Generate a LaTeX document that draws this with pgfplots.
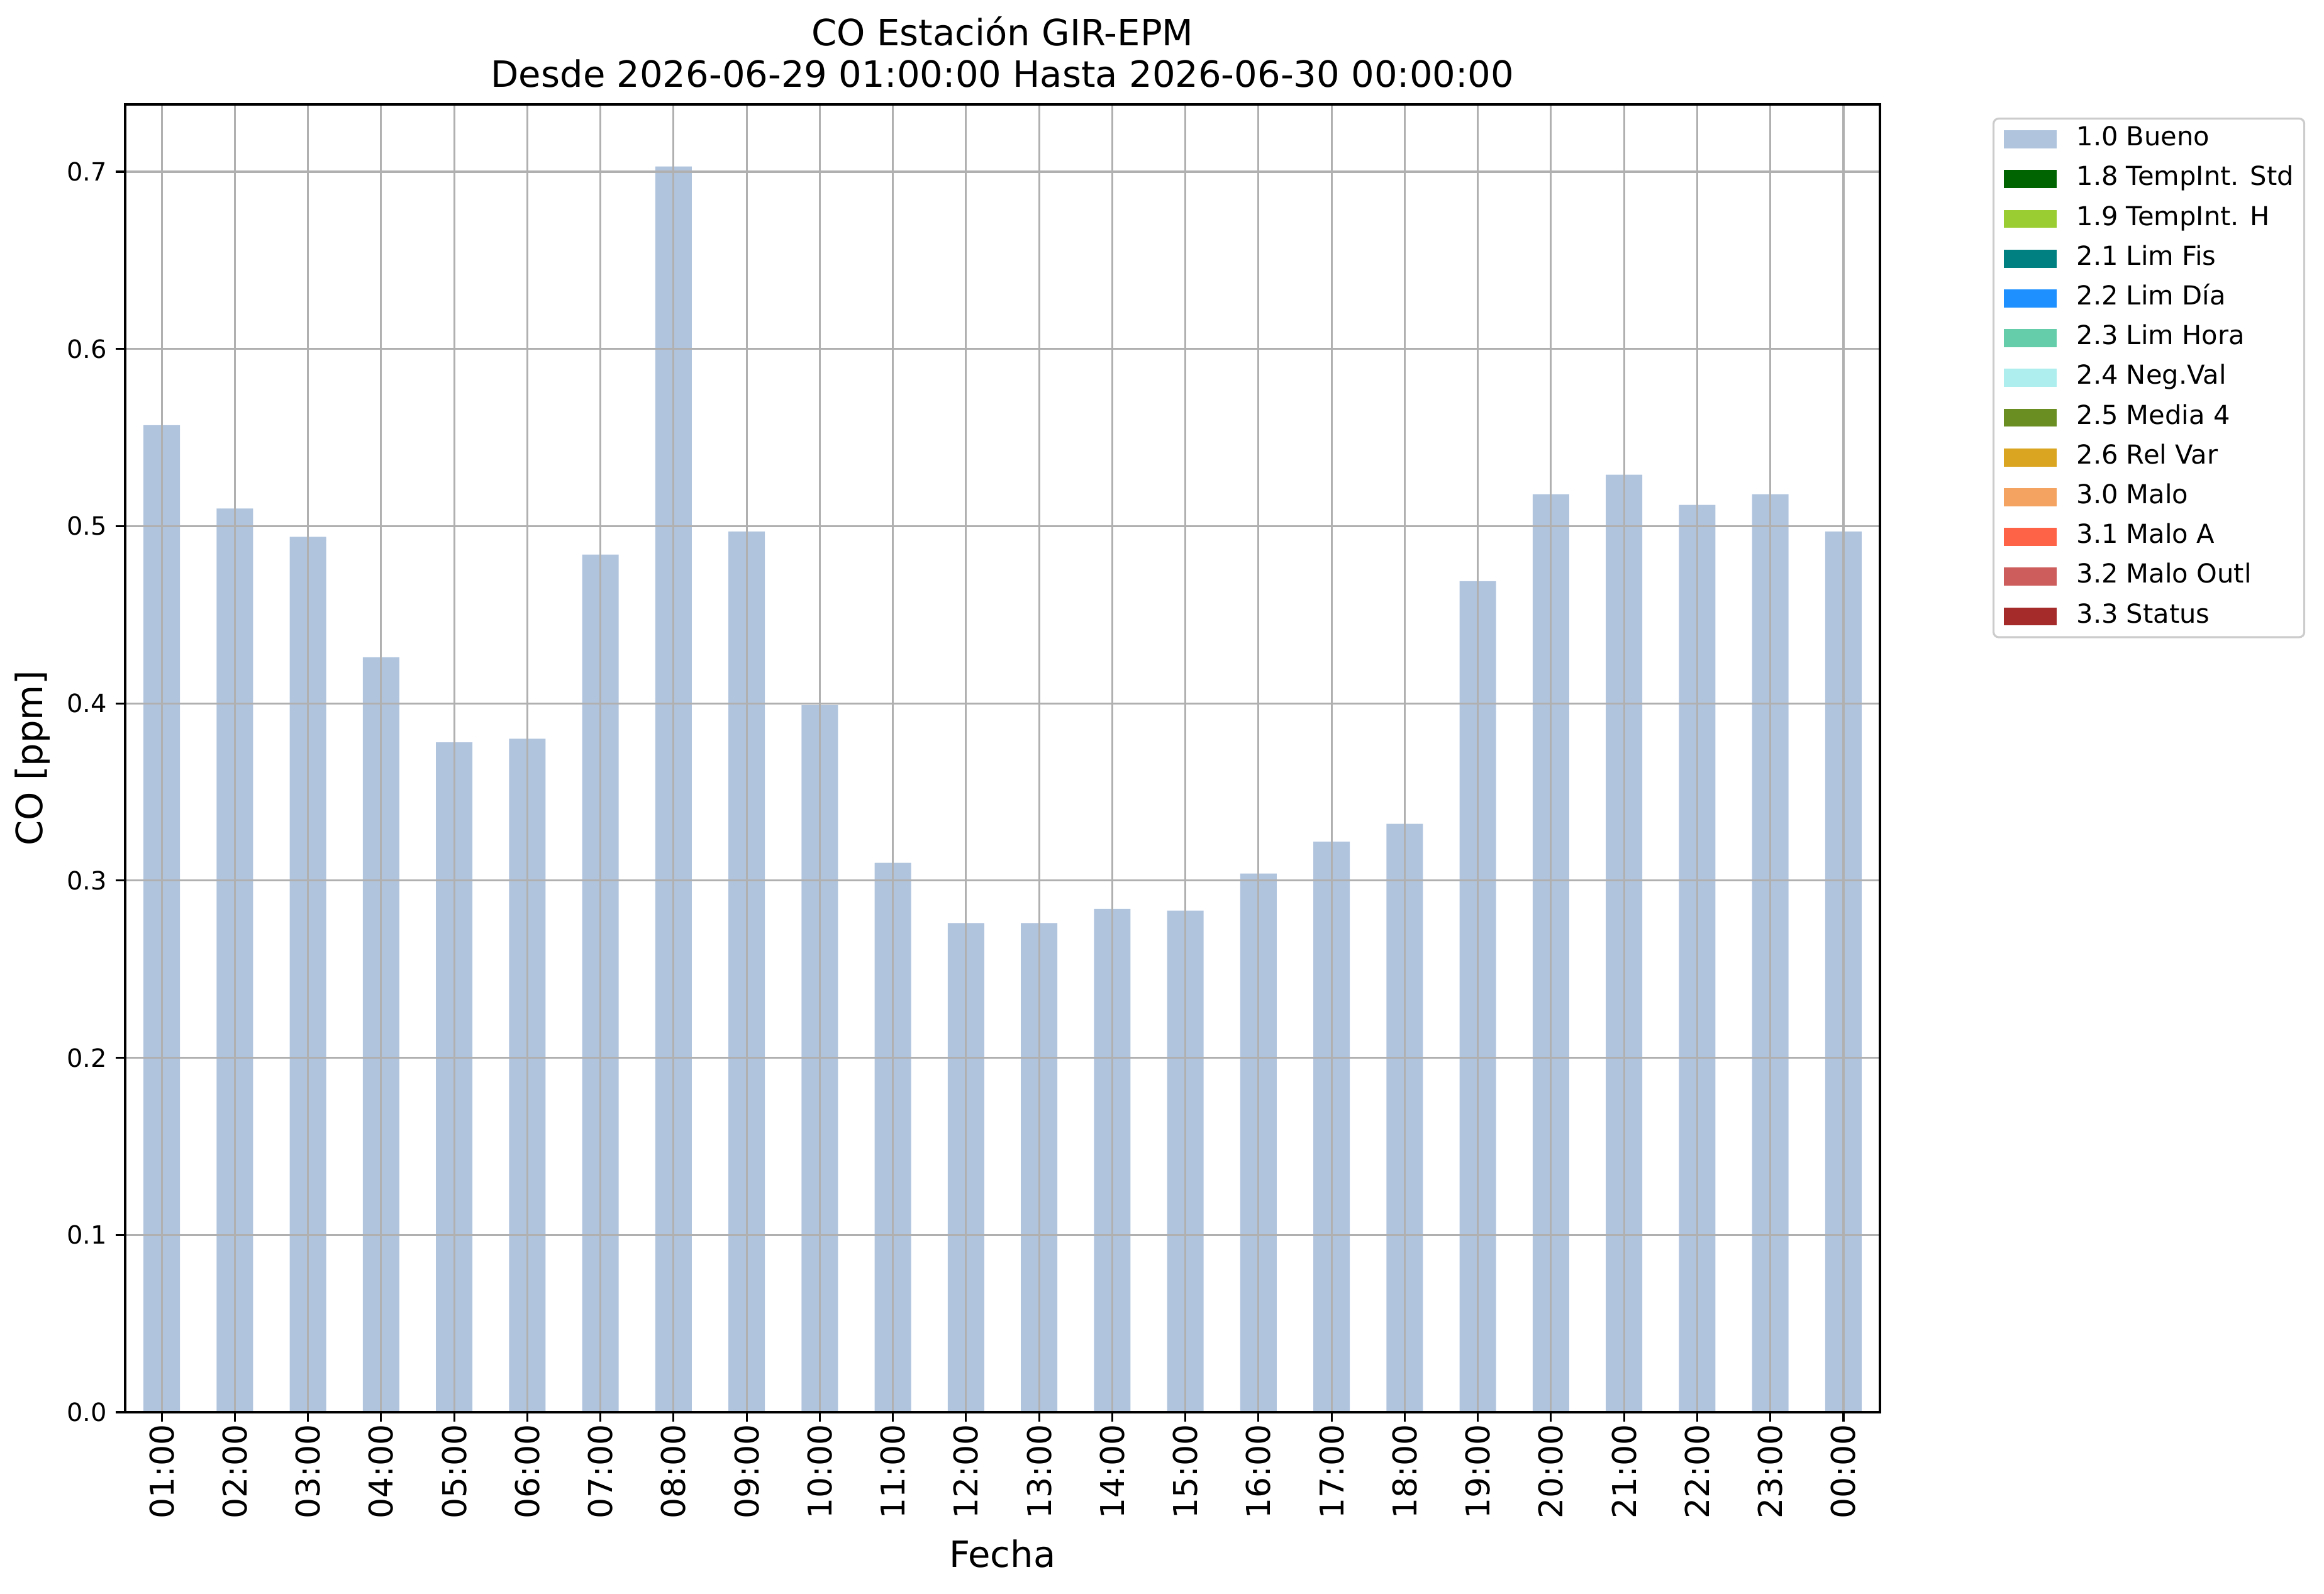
\documentclass[border=0pt]{standalone}
\usepackage{fontspec}
\setmainfont{DejaVu Sans}
\usepackage{pgfplots}
\pgfplotsset{compat=1.18}
\definecolor{c10}{HTML}{B0C4DE}
\definecolor{c18}{HTML}{006400}
\definecolor{c19}{HTML}{9ACD32}
\definecolor{c21}{HTML}{008080}
\definecolor{c22}{HTML}{1E90FF}
\definecolor{c23}{HTML}{66CDAA}
\definecolor{c24}{HTML}{AFEEEE}
\definecolor{c25}{HTML}{6B8E23}
\definecolor{c26}{HTML}{DAA520}
\definecolor{c30}{HTML}{F4A460}
\definecolor{c31}{HTML}{FF6347}
\definecolor{c32}{HTML}{CD5C5C}
\definecolor{c33}{HTML}{A52A2A}
\definecolor{gridc}{HTML}{B0B0B0}
\definecolor{legc}{HTML}{CCCCCC}
\pgfplotsset{mypatch/.style={legend image code/.code={\fill[##1, sharp corners] (0pt,-3.6pt) rectangle (21pt,3.6pt);}}}
\begin{document}
\begin{tikzpicture}
\begin{axis}[
  at={(0,0)}, anchor=south west,
  scale only axis, width=697.5pt, height=519.75pt,
  xmin=-0.5, xmax=23.5, ymin=0, ymax=0.738,
  axis on top,
  axis line style={line width=0.8pt, black},
  tick style={line width=0.8pt, black},
  tick align=outside, major tick length=3.75pt,
  xtick pos=lower, ytick pos=left,
  xtick={0,1,2,3,4,5,6,7,8,9,10,11,12,13,14,15,16,17,18,19,20,21,22,23},
  xticklabels={01:00,02:00,03:00,04:00,05:00,06:00,07:00,08:00,09:00,10:00,11:00,12:00,13:00,14:00,15:00,16:00,17:00,18:00,19:00,20:00,21:00,22:00,23:00,00:00},
  xticklabel style={rotate=90, anchor=east, font=\fontsize{13}{15}\selectfont, inner sep=0pt, xshift=-1pt},
  ytick={0,0.1,0.2,0.3,0.4,0.5,0.6,0.7},
  yticklabel style={font=\fontsize{10}{12}\selectfont, /pgf/number format/.cd, fixed, fixed zerofill, precision=1, assume math mode=true},
  grid=major,
  major grid style={gridc, line width=0.8pt},
  xlabel={Fecha},
  xlabel style={font=\fontsize{14.4}{17}\selectfont, at={(0.5,0)}, anchor=center, yshift=-56.25pt},
  ylabel={CO [ppm]},
  ylabel style={font=\fontsize{14.4}{17}\selectfont, at={(0,0.5)}, anchor=center, yshift=36.75pt},
  title={CO Estación GIR-EPM\\Desde 2026-06-29 01:00:00 Hasta 2026-06-30 00:00:00},
  title style={align=center, font=\fontsize{14.4}{16.5}\selectfont, at={(0.5,1)}, anchor=south, inner sep=0pt, yshift=0.5pt},
  legend style={draw=legc, line width=0.8pt, rounded corners=2pt, fill=white,
    at={(1,1)}, anchor=north west, xshift=44.75pt, yshift=-5.25pt,
    font=\fontsize{10.4}{12}\selectfont, inner xsep=4.2pt, inner ysep=3.5pt,
    row sep=6.3pt, nodes={inner sep=0pt, text height=7.3pt, text depth=2.2pt},
    /tikz/every odd column/.append style={column sep=7.8pt}},
  legend cell align=left,
]
\addplot[ybar, bar width=0.5, fill=c10, draw=none, mypatch] coordinates {
(0,0.557) (1,0.510) (2,0.494) (3,0.426) (4,0.378) (5,0.380) (6,0.484) (7,0.703)
(8,0.497) (9,0.399) (10,0.310) (11,0.276) (12,0.276) (13,0.284) (14,0.283) (15,0.304)
(16,0.322) (17,0.332) (18,0.469) (19,0.518) (20,0.529) (21,0.512) (22,0.518) (23,0.497)
};
\addlegendentry{1.0 Bueno}
\addlegendimage{mypatch, fill=c18, draw=none}\addlegendentry{1.8 TempInt. Std}
\addlegendimage{mypatch, fill=c19, draw=none}\addlegendentry{1.9 TempInt. H}
\addlegendimage{mypatch, fill=c21, draw=none}\addlegendentry{2.1 Lim Fis}
\addlegendimage{mypatch, fill=c22, draw=none}\addlegendentry{2.2 Lim Día}
\addlegendimage{mypatch, fill=c23, draw=none}\addlegendentry{2.3 Lim Hora}
\addlegendimage{mypatch, fill=c24, draw=none}\addlegendentry{2.4 Neg.Val}
\addlegendimage{mypatch, fill=c25, draw=none}\addlegendentry{2.5 Media 4}
\addlegendimage{mypatch, fill=c26, draw=none}\addlegendentry{2.6 Rel Var}
\addlegendimage{mypatch, fill=c30, draw=none}\addlegendentry{3.0 Malo}
\addlegendimage{mypatch, fill=c31, draw=none}\addlegendentry{3.1 Malo A}
\addlegendimage{mypatch, fill=c32, draw=none}\addlegendentry{3.2 Malo Outl}
\addlegendimage{mypatch, fill=c33, draw=none}\addlegendentry{3.3 Status}
\end{axis}
\pgfresetboundingbox
\path (-49.75pt,-72.25pt) rectangle (874pt,561.25pt);
\end{tikzpicture}
\end{document}
